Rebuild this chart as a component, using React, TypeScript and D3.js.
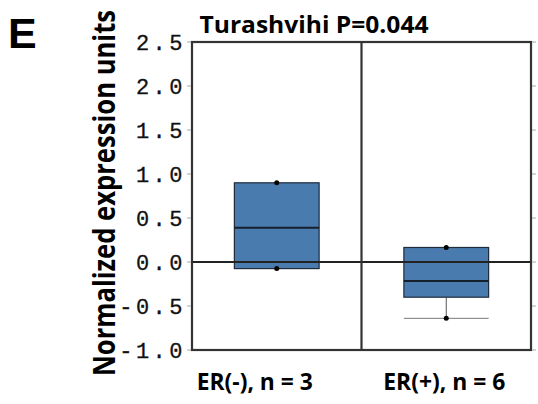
import * as d3 from "d3";

// box summaries
const groups = ["ER(-), n = 3", "ER(+), n = 6"];
const q1 = [-0.075, -0.4];
const medians = [0.39, -0.215];
const q3 = [0.9, 0.165];
const whiskerLow = [-0.075, -0.64];
const whiskerHigh = [0.9, 0.165];
const points = [
  [0.9, -0.075],
  [0.165, -0.64],
];
const yTicks = [-1.0, -0.5, 0.0, 0.5, 1.0, 1.5, 2.0, 2.5];
const title = "Turashvihi P=0.044";
const yLabel = "Normalized expression units";

const width = 538;
const height = 404;
const marginLeft = 192;
const marginRight = 7;
const marginTop = 42;
const marginBottom = 54;

export default function App() {
  const scaleX = d3
    .scaleBand()
    .domain(groups)
    .range([marginLeft, width - marginRight])
    .padding(0);
  const scaleY = d3
    .scaleLinear()
    .domain([-1, 2.5])
    .range([height - marginBottom, marginTop]);

  const bw = scaleX.bandwidth();
  const boxW = bw * 0.5;
  const x0 = marginLeft;
  const x1 = width - marginRight;
  const yTop = scaleY(2.5);
  const yBot = scaleY(-1);

  return (
    <svg
      width={width}
      height={height}
      style={{ position: "absolute", left: 0, top: 0, background: "#fff" }}
    >
      <text
        x={8}
        y={48}
        fontFamily="Liberation Sans, Arial, sans-serif"
        fontWeight="bold"
        fontSize={43}
        fill="#000"
      >
        E
      </text>
      <text
        x={314}
        y={33}
        textAnchor="middle"
        fontFamily="Open Sans, sans-serif"
        fontWeight="bold"
        fontSize={24}
        textLength={229}
        lengthAdjust="spacingAndGlyphs"
      >
        {title}
      </text>
      {/* narrow bold label: small font stretched across the baseline */}
      <text
        transform={`translate(115, 376) rotate(-90) scale(1, 1.36)`}
        fontFamily="Open Sans, sans-serif"
        fontWeight="bold"
        fontSize={22}
        textLength={366}
        lengthAdjust="spacingAndGlyphs"
      >
        {yLabel}
      </text>

      {/* ticks */}
      {yTicks.map((t) => (
        <g key={`tick-${t}`}>
          <line x1={x0 - 5} x2={x0} y1={scaleY(t)} y2={scaleY(t)} stroke="#aaa" strokeWidth={1} />
          <line x1={x1} x2={x1 + 5} y1={scaleY(t)} y2={scaleY(t)} stroke="#aaa" strokeWidth={1} />
          <text
            x={186}
            y={scaleY(t)}
            dy="0.36em"
            textAnchor="end"
            fontFamily="Liberation Mono, monospace"
            fontSize={22}
            letterSpacing={3.5}
            fill="#111"
            stroke="#111"
            strokeWidth={0.3}
          >
            {t.toFixed(1)}
          </text>
        </g>
      ))}

      {/* boxes */}
      {groups.map((g, i) => {
        const cx = (scaleX(g) ?? 0) + bw / 2;
        return (
          <g key={`box-${i}`}>
            <line x1={cx} x2={cx} y1={scaleY(q1[i])} y2={scaleY(whiskerLow[i])} stroke="#555" strokeWidth={1} />
            <line x1={cx} x2={cx} y1={scaleY(q3[i])} y2={scaleY(whiskerHigh[i])} stroke="#555" strokeWidth={1} />
            {whiskerLow[i] < q1[i] && (
              <line x1={cx - boxW / 2} x2={cx + boxW / 2} y1={scaleY(whiskerLow[i])} y2={scaleY(whiskerLow[i])} stroke="#777" strokeWidth={1} />
            )}
            <rect
              x={cx - boxW / 2}
              y={scaleY(q3[i])}
              width={boxW}
              height={scaleY(q1[i]) - scaleY(q3[i])}
              fill="#4a7baf"
              stroke="#1e2b3a"
              strokeWidth={1.2}
            />
            <line x1={cx - boxW / 2} x2={cx + boxW / 2} y1={scaleY(medians[i])} y2={scaleY(medians[i])} stroke="#16202c" strokeWidth={2} />
            {points[i].map((p, j) => (
              <circle key={`pt-${j}`} cx={cx} cy={scaleY(p)} r={2.5} fill="#000" />
            ))}
          </g>
        );
      })}

      {/* zero line */}
      <line x1={x0} x2={x1} y1={scaleY(0)} y2={scaleY(0)} stroke="#222" strokeWidth={2} />

      {/* frame + divider */}
      <rect x={x0} y={yTop} width={x1 - x0} height={yBot - yTop} fill="none" stroke="#333" strokeWidth={2.2} />
      <line x1={scaleX(groups[1])} x2={scaleX(groups[1])} y1={yTop} y2={yBot} stroke="#333" strokeWidth={2.2} />

      {groups.map((g, i) => (
        <text
          key={`xl-${i}`}
          x={(scaleX(g) ?? 0) + bw / 2 - (i === 0 ? 22 : 2)}
          y={390}
          textAnchor="middle"
          fontFamily="Open Sans, sans-serif"
          fontWeight="bold"
          fontSize={24}
          textLength={i === 0 ? 116 : 122}
          lengthAdjust="spacingAndGlyphs"
        >
          {g}
        </text>
      ))}
    </svg>
  );
}
